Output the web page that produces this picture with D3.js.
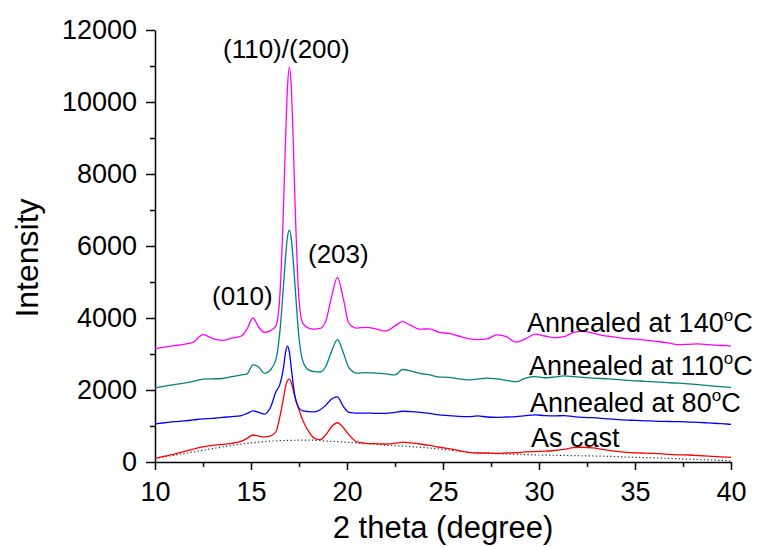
<!DOCTYPE html>
<html>
<head>
<meta charset="utf-8">
<script src="https://cdn.jsdelivr.net/npm/d3@7"></script>
<style>
  body { margin: 0; background: #fff; }
  svg { display: block; font-family: Arial, "Liberation Sans", sans-serif; }
  .axis path, .axis line { stroke: #000; stroke-width: 1.5; }
  .axis text { font-size: 27px; fill: #000; }
</style>
</head>
<body>
<div id="chart"></div>
<script>
// 2 theta grid shared by the four scans
const theta = [10, 10.5, 11, 11.5, 12, 12.5, 13, 13.5, 14, 14.5, 14.8, 15.1, 15.4, 15.7, 16.0,
  16.3, 16.5, 16.7, 16.8, 16.9, 17.0, 17.1, 17.2, 17.3, 17.5, 17.7, 18.0, 18.3, 18.6, 18.9, 19.2, 19.5, 19.8, 20.1,
  20.5, 21, 21.5, 22, 22.5, 22.9, 23.3, 23.8, 24.3, 24.8, 25.3, 25.8, 26.3, 26.8, 27.3, 27.8, 28.3, 28.8,
  29.3, 29.8, 30.3, 30.8, 31.3, 31.8, 32.3, 32.8, 33.3, 33.8, 34.3, 34.8, 35.3, 35.8, 36.3, 36.8, 37.3,
  37.8, 38.3, 38.8, 39.3, 39.8, 40];

const annealed140 = [3150, 3190, 3230, 3270, 3330, 3540, 3430, 3380, 3440, 3500, 3700, 4000, 3750, 3600, 3650,
  3780, 4600, 7200, 8950, 10400, 10970, 10400, 8900, 7100, 4500, 3850, 3720, 3690, 3710, 3920, 4600, 5130, 4560, 3850,
  3720, 3740, 3700, 3640, 3780, 3900, 3800, 3690, 3700, 3600, 3570, 3500, 3430, 3400, 3420, 3530, 3480, 3330,
  3420, 3550, 3500, 3450, 3480, 3600, 3630, 3580, 3520, 3480, 3440, 3420, 3400, 3370, 3340, 3300, 3260,
  3270, 3280, 3260, 3240, 3230, 3220];

const annealed110 = [2060, 2110, 2150, 2190, 2240, 2300, 2310, 2320, 2370, 2420, 2450, 2700, 2640, 2460, 2550,
  2850, 3600, 4950, 5700, 6250, 6440, 6200, 5600, 4850, 3450, 2800, 2560, 2510, 2500, 2660, 3080, 3400, 3050, 2620,
  2470, 2480, 2470, 2450, 2420, 2570, 2530, 2460, 2420, 2360, 2350, 2310, 2280, 2300, 2330, 2310, 2270, 2230,
  2330, 2370, 2340, 2360, 2390, 2370, 2350, 2330, 2320, 2300, 2280, 2260, 2250, 2230, 2220, 2200, 2190,
  2170, 2150, 2120, 2100, 2080, 2075];

const annealed80 = [1060, 1090, 1120, 1140, 1170, 1200, 1210, 1240, 1260, 1290, 1350, 1420, 1380, 1330, 1500,
  1950, 2150, 2650, 3050, 3220, 3050, 2600, 2150, 1800, 1500, 1420, 1400, 1390, 1450, 1580, 1750, 1810, 1550, 1380,
  1360, 1360, 1350, 1350, 1380, 1410, 1400, 1380, 1350, 1310, 1290, 1270, 1260, 1280, 1250, 1240, 1250, 1260,
  1290, 1310, 1290, 1280, 1290, 1260, 1240, 1230, 1210, 1190, 1170, 1160, 1150, 1140, 1130, 1125, 1120,
  1110, 1100, 1085, 1070, 1055, 1045];

const asCast = [100, 160, 220, 290, 360, 420, 460, 490, 520, 580, 660, 750, 720, 700, 720,
  840, 1250, 1800, 2100, 2260, 2300, 2200, 2000, 1780, 1450, 1150, 850, 660, 620, 760, 980, 1090, 960, 760,
  560, 520, 510, 500, 520, 550, 530, 500, 460, 410, 370, 320, 270, 250, 250, 240, 250, 260,
  280, 290, 300, 320, 350, 400, 410, 390, 350, 310, 280, 260, 250, 240, 230, 210, 200,
  195, 180, 165, 150, 135, 130];

// amorphous background under the as-cast scan
const bgTheta = [10, 11, 12, 13, 14, 15, 16, 17, 18, 19, 20, 21, 22, 23, 24, 25, 26, 27, 28, 29, 30,
  31, 32, 33, 34, 35, 36, 37, 38, 39, 40];
const background = [100, 190, 280, 370, 460, 530, 580, 600, 610, 580, 550, 510, 470, 440, 400, 350, 290, 250, 230, 210, 195,
  185, 175, 165, 150, 130, 115, 95, 75, 55, 30];

const xTicks = [10, 15, 20, 25, 30, 35, 40];
const yTicks = [0, 2000, 4000, 6000, 8000, 10000, 12000];

const w = 757, h = 547;

const svg = d3.select("#chart").append("svg")
  .attr("width", w)
  .attr("height", h);

const xScale = d3.scaleLinear().domain([10, 40]).range([155, 731]);
const yScale = d3.scaleLinear().domain([0, 12000]).range([462, 30]);

// minor ticks first, majors drawn over them
svg.append("g")
  .attr("class", "axis")
  .attr("transform", "translate(0,462)")
  .call(d3.axisBottom(xScale).tickValues(d3.range(12.5, 40, 5)).tickSize(5).tickFormat(""))
  .select(".domain").remove();

svg.append("g")
  .attr("class", "axis")
  .attr("transform", "translate(155,0)")
  .call(d3.axisLeft(yScale).tickValues(d3.range(1000, 12000, 2000)).tickSize(5).tickFormat(""))
  .select(".domain").remove();

svg.append("g")
  .attr("class", "axis")
  .attr("transform", "translate(0,462)")
  .call(d3.axisBottom(xScale).tickValues(xTicks).tickSize(8).tickSizeOuter(0).tickPadding(12).tickFormat(d3.format("d")));

svg.append("g")
  .attr("class", "axis")
  .attr("transform", "translate(155,0)")
  .call(d3.axisLeft(yScale).tickValues(yTicks).tickSize(9).tickSizeOuter(0).tickPadding(9).tickFormat(d3.format("d")));

svg.selectAll(".axis text").attr("font-family", "Arial, 'Liberation Sans', sans-serif");

// scans
const line = d3.line()
  .x(d => xScale(d[0]))
  .y(d => yScale(d[1]))
  .curve(d3.curveMonotoneX);

svg.append("path")
  .datum(bgTheta.map((t, i) => [t, background[i]]))
  .attr("d", line)
  .attr("fill", "none")
  .attr("stroke", "#222")
  .attr("stroke-width", 1.2)
  .attr("stroke-dasharray", "1.2,2.4");

const scans = [
  { values: asCast, color: "#ff0000" },
  { values: annealed80, color: "#0000ff" },
  { values: annealed110, color: "#008080" },
  { values: annealed140, color: "#ff00ff" }
];

scans.forEach(s => {
  svg.append("path")
    .datum(theta.map((t, i) => [t, s.values[i]]))
    .attr("d", line)
    .attr("fill", "none")
    .attr("stroke", s.color)
    .attr("stroke-width", 1.3);
});

// scan labels with degree sign as superscript o
const labels = [
  { temp: "140", x: 527, y: 332 },
  { temp: "110", x: 529, y: 375 },
  { temp: "80", x: 530, y: 412 }
];

labels.forEach(l => {
  const t = svg.append("text")
    .attr("x", l.x)
    .attr("y", l.y)
    .attr("font-size", 27)
    .text("Annealed at " + l.temp);
  t.append("tspan").attr("font-size", 17).attr("dy", -11).text("o");
  t.append("tspan").attr("dy", 11).text("C");
});

svg.append("text")
  .attr("x", 531)
  .attr("y", 447)
  .attr("font-size", 27)
  .text("As cast");

// reflection labels
svg.append("text").attr("x", 223).attr("y", 58).attr("font-size", 26).text("(110)/(200)");
svg.append("text").attr("x", 212).attr("y", 305).attr("font-size", 26).text("(010)");
svg.append("text").attr("x", 308).attr("y", 263).attr("font-size", 26).text("(203)");

// axis titles
svg.append("text")
  .attr("x", 443)
  .attr("y", 538)
  .attr("font-size", 31)
  .style("text-anchor", "middle")
  .text("2 theta (degree)");

svg.append("text")
  .attr("transform", "rotate(-90)")
  .attr("x", -258)
  .attr("y", 38)
  .attr("font-size", 32)
  .style("text-anchor", "middle")
  .text("Intensity");
</script>
</body>
</html>
